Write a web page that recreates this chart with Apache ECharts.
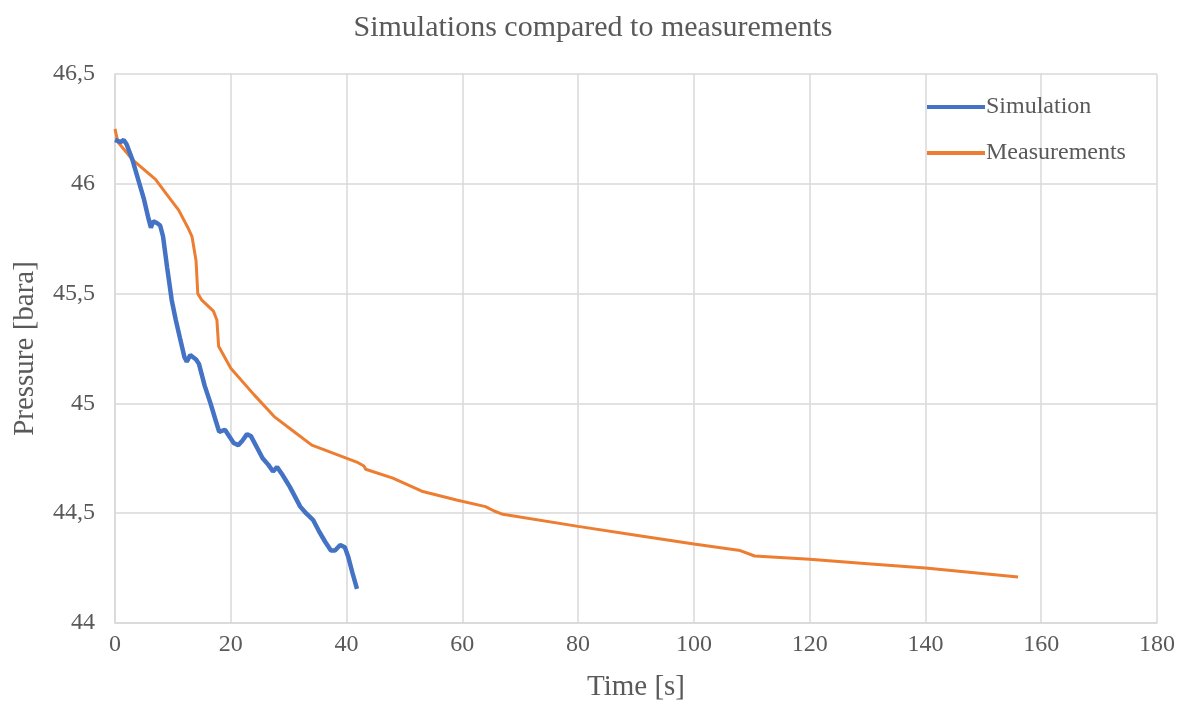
<!DOCTYPE html>
<html>
<head>
<meta charset="utf-8">
<script src="https://cdn.jsdelivr.net/npm/echarts@6/dist/echarts.min.js"></script>
<style>html,body{margin:0;padding:0;background:#fff}#c{width:1186px;height:712px}</style>
</head>
<body>
<div id="c"></div>
<script>
const titleText = 'Simulations compared to measurements';
const xName = 'Time [s]';
const yName = 'Pressure [bara]';
const seriesNames = ['Simulation', 'Measurements'];

const simX = [0,1,1.5,2,3,4,5,5.8,6.2,6.6,7.3,7.8,8.3,9,9.8,10.5,11.2,12,12.4,13,13.5,14,14.5,15.5,16.5,17.3,18,19,19.5,20.5,21.3,22,22.8,23.5,24.5,25.5,26.5,27.3,28,28.8,29.5,30.2,31,32,33,34.2,35.2,36.3,37.3,38,38.9,39.7,40.3,41,41.8];
const simY = [46.2,46.19,46.2,46.18,46.11,46.02,45.93,45.84,45.8,45.83,45.82,45.81,45.76,45.62,45.47,45.38,45.3,45.21,45.19,45.22,45.21,45.2,45.18,45.08,45.0,44.93,44.87,44.88,44.86,44.82,44.81,44.83,44.86,44.85,44.8,44.75,44.72,44.69,44.71,44.68,44.65,44.62,44.58,44.53,44.5,44.47,44.42,44.37,44.33,44.33,44.355,44.345,44.3,44.23,44.155];

const measX = [0,0.5,3,7,9,11,12.6,13.3,14,14.3,15,17,17.6,17.9,20,24,27.5,31,34,38,42,43,43.3,48,53,59,64,65.5,67,80,90,100,108,110.5,120,130,140,156];
const measY = [46.25,46.19,46.11,46.02,45.95,45.88,45.8,45.76,45.65,45.5,45.47,45.42,45.38,45.26,45.16,45.04,44.94,44.87,44.81,44.77,44.73,44.715,44.7,44.66,44.6,44.56,44.53,44.51,44.495,44.44,44.4,44.36,44.33,44.305,44.29,44.27,44.25,44.21];

const pair = (xs, ys) => xs.map((x, i) => [x, ys[i]]);
const font = 'Liberation Serif';
const txt = '#595959';

const chart = echarts.init(document.getElementById('c'), null, {renderer: 'canvas'});
chart.setOption({
  animation: false,
  backgroundColor: '#fff',
  title: {
    text: titleText, left: 'center', top: 8,
    textStyle: {fontFamily: font, fontSize: 30, fontWeight: 'normal', color: txt}
  },
  legend: {
    orient: 'vertical', left: 922, top: 90, itemWidth: 58, itemHeight: 4, itemGap: 22,
    icon: 'rect',
    textStyle: {fontFamily: font, fontSize: 24, color: txt, padding: [0,0,0,-4]},
    data: seriesNames
  },
  grid: {left: 115, right: 29, top: 74, bottom: 89, containLabel: false},
  xAxis: {
    type: 'value', min: 0, max: 180, interval: 20,
    name: xName, nameLocation: 'middle', nameGap: 50,
    nameTextStyle: {fontFamily: font, fontSize: 29, color: txt},
    axisLine: {show: true, lineStyle: {color: '#d9d9d9', width: 1.5}},
    axisTick: {show: false},
    axisLabel: {fontFamily: font, fontSize: 24, color: txt, margin: 10},
    splitLine: {show: true, lineStyle: {color: '#d9d9d9', width: 1.5}}
  },
  yAxis: {
    type: 'value', min: 44, max: 46.5, interval: 0.5,
    name: yName, nameLocation: 'middle', nameGap: 75, nameRotate: 90,
    nameTextStyle: {fontFamily: font, fontSize: 29, color: txt},
    axisLine: {show: true, lineStyle: {color: '#d9d9d9', width: 1.5}},
    axisTick: {show: false},
    axisLabel: {fontFamily: font, fontSize: 24, color: txt, margin: 20,
      formatter: v => String(v).replace('.', ',')},
    splitLine: {show: true, lineStyle: {color: '#d9d9d9', width: 1.5}}
  },
  series: [
    {name: seriesNames[0], type: 'line', data: pair(simX, simY), symbol: 'none',
     lineStyle: {color: '#4472C4', width: 4.5}, itemStyle: {color: '#4472C4'}, z: 3},
    {name: seriesNames[1], type: 'line', data: pair(measX, measY), symbol: 'none',
     lineStyle: {color: '#ED7D31', width: 3}, itemStyle: {color: '#ED7D31'}, z: 2}
  ]
});
</script>
</body>
</html>
